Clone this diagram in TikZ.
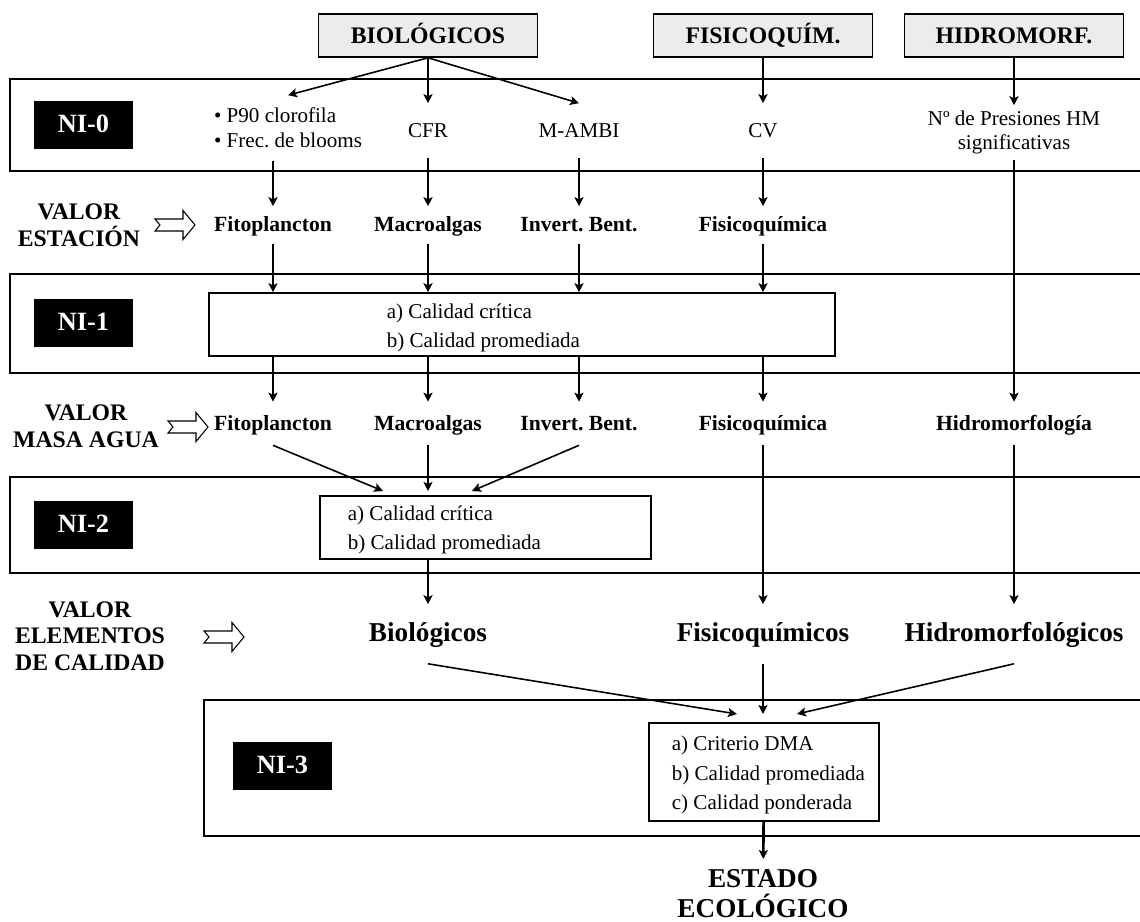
\documentclass[tikz,border=0pt]{standalone}
\usepackage{fontspec}
\setmainfont{Liberation Serif}
\frenchspacing
\usetikzlibrary{positioning, arrows.meta}

\begin{document}
\begin{tikzpicture}[x=0.2mm, y=-0.2mm, line width=0.9pt,
  >={Stealth[length=1.8mm, width=1.8mm, inset=0.4mm]},
  group box/.style={draw, fill=gray!15, minimum width=43.8mm, minimum height=8.6mm, inner sep=0pt, text height=0.93em, text depth=0.02em, font=\fontsize{13.5}{15}\selectfont\bfseries},
  level tag/.style={fill=black, text=white, minimum width=19.8mm, minimum height=9.6mm, inner sep=0pt, text height=0.9em, text depth=0.015em, font=\fontsize{15}{17}\selectfont\bfseries},
  index/.style={inner sep=0pt, minimum height=10.6mm, align=center, font=\fontsize{12}{14}\selectfont},
  one line/.style={text height=0.9em, text depth=0.12em},
  element/.style={inner sep=0pt, minimum height=7.2mm, one line, font=\fontsize{12.3}{14}\selectfont\bfseries},
  water body/.style={element, minimum height=8.4mm},
  quality/.style={inner sep=0pt, minimum height=11.6mm, align=center, font=\fontsize{15.5}{17}\selectfont\bfseries},
  side/.style={align=center, inner sep=0pt, font=\fontsize{13.5}{15.2}\selectfont\bfseries},
  rule box/.style={draw, inner sep=0pt},
  rule text/.style={anchor=west, inner sep=0pt, align=left, font=\fontsize{12}{16.8}\selectfont}]

\useasboundingbox (0,0) rectangle (1140,922);

% bands
\draw[line width=1pt] (1140,79) -- (10,79) -- (10,171) -- (1140,171);
\draw[line width=1pt] (1140,274) -- (10,274) -- (10,373) -- (1140,373);
\draw[line width=1pt] (1140,477) -- (10,477) -- (10,573) -- (1140,573);
\draw[line width=1pt] (1140,700) -- (204,700) -- (204,836) -- (1140,836);

\node[group box] (biol) at (428,35.5) {BIOLÓGICOS};
\node[group box] (fq) at (763,35.5) {FISICOQUÍM.};
\node[group box] (hm) at (1014,35.5) {HIDROMORF.};

\node[level tag] (ni0) at (83.5,125) {NI-0};
\node[level tag] (ni1) at (83.5,323) {NI-1};
\node[level tag] (ni2) at (83.5,525) {NI-2};
\node[level tag] (ni3) at (282.5,765.5) {NI-3};

% indices
\node[index, minimum height=12.8mm, align=left] (p90) at (288,128) {• P90 clorofila\\• Frec. de blooms};
\node[index, one line] (cfr) at (428,130.5) {CFR};
\node[index, one line] (mambi) at (579,130.5) {M-AMBI};
\node[index, one line] (cv) at (763,130.5) {CV};
\node[index] (presiones) at (1014,132.5) {Nº de Presiones HM\\significativas};

% valor estacion
\node[side] (valor1) at (79,225) {VALOR\\ESTACIÓN};
\node[element] (fito1) at (273,225) {Fitoplancton};
\node[element] (macro1) at (428,225) {Macroalgas};
\node[element] (invert1) at (579,225) {Invert. Bent.};
\node[element] (fq1) at (763,225) {Fisicoquímica};

\node[rule box, minimum width=125.2mm, minimum height=12.6mm] (crit1) at (522,324.5) {};
\node[rule text] (crit1txt) at (386,328) {a) Calidad crítica\\b) Calidad promediada};

% valor masa agua
\node[side] (valor2) at (86,426) {VALOR\\MASA AGUA};
\node[water body] (fito2) at (273,423.5) {Fitoplancton};
\node[water body] (macro2) at (428,423.5) {Macroalgas};
\node[water body] (invert2) at (579,423.5) {Invert. Bent.};
\node[water body] (fq2) at (763,423.5) {Fisicoquímica};
\node[water body] (hm2) at (1014,423.5) {Hidromorfología};

\node[rule box, minimum width=66.2mm, minimum height=12.6mm] (crit2) at (485.5,527.5) {};
\node[rule text] (crit2txt) at (347,530) {a) Calidad crítica\\b) Calidad promediada};
\coordinate (in2a) at (383,491);
\coordinate (in2c) at (472,491);

% valor elementos de calidad
\node[side] (valor3) at (90,636) {VALOR\\ELEMENTOS\\DE CALIDAD};
\node[quality, text height=1em, text depth=0.13em] (biol3) at (428,634) {Biológicos};
\node[quality, text height=1em, text depth=0.13em] (fq3) at (763,634) {Fisicoquímicos};
\node[quality, text height=1em, text depth=0.13em] (hm3) at (1014,634) {Hidromorfológicos};

\node[rule box, minimum width=46mm, minimum height=19.6mm] (crit3) at (764,772) {};
\node[rule text] (crit3txt) at (671,775) {a) Criterio DMA\\b) Calidad promediada\\c) Calidad ponderada};
\coordinate (in3a) at (737,714);
\coordinate (in3c) at (797,714);

\node[quality, anchor=north, minimum height=0pt] (estado) at (763,869) {ESTADO\\ECOLÓGICO};

\foreach \ax/\ay in {155/225, 168/427, 204/637}
  \draw[line width=0.6pt] (\ax,\ay-6) -- ++(28,0) -- ++(0,-8.5) -- (\ax+40,\ay)
    -- (\ax+28,\ay+14.5) -- ++(0,-8.5) -- (\ax,\ay+6) -- (\ax+5,\ay) -- cycle;

\path[->]
(biol.south) edge (p90.north)
(biol.south) edge (cfr)
(biol.south) edge (mambi.north)
(fq) edge (cv)
(hm) edge (presiones)
(p90.south -| fito1) edge (fito1)
(cfr) edge (macro1)
(mambi) edge (invert1)
(cv) edge (fq1)
(presiones) edge (hm2)
(fito1) edge (fito1 |- crit1.north)
(macro1) edge (macro1 |- crit1.north)
(invert1) edge (invert1 |- crit1.north)
(fq1) edge (fq1 |- crit1.north)
(crit1.south -| fito2) edge (fito2)
(crit1.south -| macro2) edge (macro2)
(crit1.south -| invert2) edge (invert2)
(crit1.south -| fq2) edge (fq2)
(fito2.south) edge (in2a)
(macro2) edge (macro2 |- in2a)
(invert2.south) edge (in2c)
(crit2.south -| biol3) edge (biol3)
(fq2) edge (fq3)
(hm2) edge (hm3)
(biol3.south) edge (in3a)
(fq3) edge (fq3 |- in3a)
(hm3.south) edge (in3c)
;
\path[->, line width=1.5pt, shorten >=2mm] (crit3) edge (estado);

\end{tikzpicture}
\end{document}
